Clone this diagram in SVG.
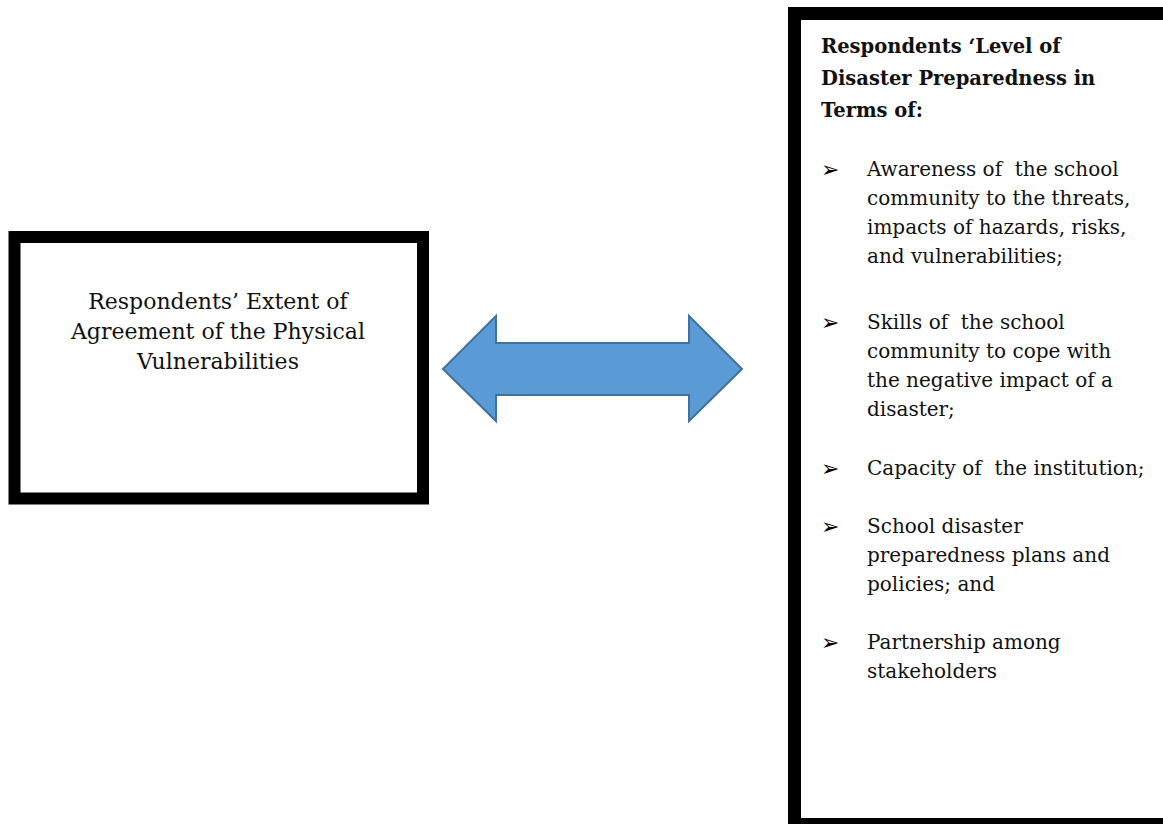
<svg xmlns="http://www.w3.org/2000/svg" width="1163" height="824" viewBox="0 0 1163 824">
  <style>
    .frame { fill: #ffffff; stroke: #000000; }
    .serif { font-family: "DejaVu Serif", "Liberation Serif", serif; fill: #111111; white-space: pre; }
    .lead { font-size: 22px; text-anchor: middle; }
    .head { font-size: 19.5px; font-weight: bold; }
    .body { font-size: 20px; }
    .bullet { font-family: "DejaVu Sans", sans-serif; font-size: 22px; fill: #000000; }
  </style>
  <rect width="1163" height="824" fill="#ffffff"/>

  <g id="node-physical-vulnerabilities">
    <rect class="frame" x="14.5" y="237" width="408.5" height="261.5" stroke-width="12"/>
    <text class="serif lead" x="218" y="309">Respondents’ Extent of</text>
    <text class="serif lead" x="218" y="339">Agreement of the Physical</text>
    <text class="serif lead" x="218" y="369">Vulnerabilities</text>
  </g>

  <g id="connectors">
    <polygon points="443,369 496,316 496,343 689,343 689,316 742,369 689,421 689,395 496,395 496,421" fill="#5B9BD5" stroke="#41719C" stroke-width="2" stroke-linejoin="miter"/>
  </g>

  <g id="node-disaster-preparedness">
    <rect class="frame" x="794.5" y="13.5" width="380" height="811" stroke-width="13"/>
    <text class="serif head" x="821" y="53">Respondents ‘Level of</text>
    <text class="serif head" x="821" y="85">Disaster Preparedness in</text>
    <text class="serif head" x="821" y="117">Terms of:</text>

    <text class="bullet" x="821" y="177">➢</text>
    <text class="serif body" x="867" y="176" xml:space="preserve">Awareness of  the school</text>
    <text class="serif body" x="867" y="205">community to the threats,</text>
    <text class="serif body" x="867" y="234">impacts of hazards, risks,</text>
    <text class="serif body" x="867" y="263">and vulnerabilities;</text>

    <text class="bullet" x="821" y="330">➢</text>
    <text class="serif body" x="867" y="329" xml:space="preserve">Skills of  the school</text>
    <text class="serif body" x="867" y="358">community to cope with</text>
    <text class="serif body" x="867" y="387">the negative impact of a</text>
    <text class="serif body" x="867" y="416">disaster;</text>

    <text class="bullet" x="821" y="476">➢</text>
    <text class="serif body" x="867" y="475" xml:space="preserve">Capacity of  the institution;</text>

    <text class="bullet" x="821" y="534">➢</text>
    <text class="serif body" x="867" y="533">School disaster</text>
    <text class="serif body" x="867" y="562">preparedness plans and</text>
    <text class="serif body" x="867" y="591">policies; and</text>

    <text class="bullet" x="821" y="650">➢</text>
    <text class="serif body" x="867" y="649">Partnership among</text>
    <text class="serif body" x="867" y="678">stakeholders</text>
  </g>
</svg>
